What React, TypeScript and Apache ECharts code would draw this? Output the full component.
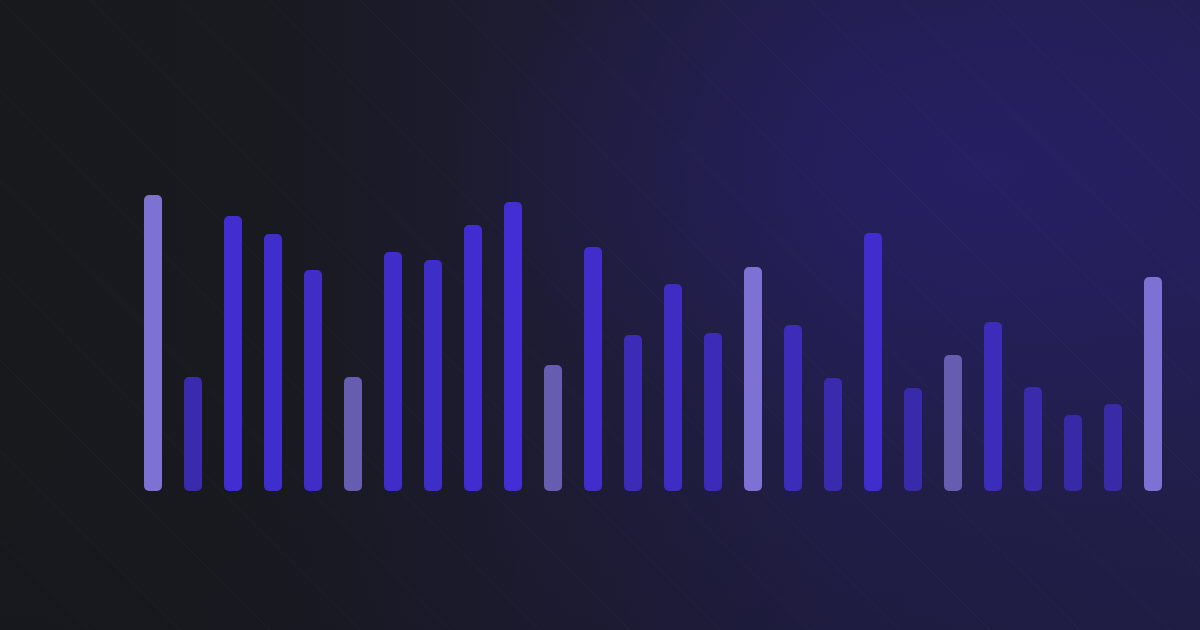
import React, { useEffect, useRef } from "react";
import * as echarts from "echarts";

const categories = [
  "1", "2", "3", "4", "5", "6", "7", "8", "9", "10", "11", "12", "13",
  "14", "15", "16", "17", "18", "19", "20", "21", "22", "23", "24", "25", "26",
];
const values = [
  296, 114, 275, 257, 221, 114, 239, 231, 266, 289, 126, 244, 156,
  207, 158, 224, 166, 113, 258, 103, 136, 169, 104, 76, 87, 214,
];
// tone of each bar: "light" lavender, "muted" greyish purple, "blue" regular
const tones = [
  "light", "blue", "blue", "blue", "blue", "muted", "blue", "blue", "blue", "blue", "muted", "blue", "blue",
  "blue", "blue", "light", "blue", "blue", "blue", "blue", "muted", "blue", "blue", "blue", "blue", "light",
];

const mix = (a: number[], b: number[], t: number) =>
  "rgb(" + a.map((v, i) => Math.round(v + (b[i] - v) * t)).join(",") + ")";

export default function App() {
  const ref = useRef<HTMLDivElement>(null);
  useEffect(() => {
    if (!ref.current) return;
    const chart = echarts.init(ref.current, undefined, { renderer: "svg" });
    const vmin = Math.min(...values);
    const vmax = Math.max(...values);
    const colorFor = (v: number, tone: string) => {
      if (tone === "light") return "#7d72d4";
      if (tone === "muted") return "#675db0";
      const t = (v - vmin) / (vmax - vmin);
      return mix([56, 42, 166], [66, 46, 214], t);
    };
    const lines: any[] = [];
    for (let k = -8; k <= 14; k++) {
      const c = k * 90;
      lines.push({
        type: "line",
        silent: true,
        z: -5,
        shape: { x1: c, y1: 0, x2: c + 630, y2: 630 },
        style: { stroke: "rgba(255,255,255,0.025)", lineWidth: 1 },
      });
    }
    chart.setOption({
      animation: false,
      backgroundColor: {
        type: "linear",
        x: 0, y: 0, x2: 1, y2: 0,
        colorStops: [
          { offset: 0, color: "#18191d" },
          { offset: 0.22, color: "#191920" },
          { offset: 0.45, color: "#1d1c33" },
          { offset: 0.7, color: "#211e4a" },
          { offset: 1, color: "#221f4e" },
        ],
      },
      graphic: [
        {
          type: "rect",
          silent: true,
          z: -10,
          shape: { x: 0, y: 0, width: 1200, height: 630 },
          style: {
            fill: {
              type: "radial",
              x: 0.82, y: 0.27, r: 0.45,
              colorStops: [
                { offset: 0, color: "rgba(42,32,120,0.55)" },
                { offset: 1, color: "rgba(42,32,120,0)" },
              ],
            },
          },
        },
        {
          type: "rect",
          silent: true,
          z: -9,
          shape: { x: 0, y: 0, width: 1200, height: 630 },
          style: {
            fill: {
              type: "linear",
              x: 0, y: 0, x2: 0, y2: 1,
              colorStops: [
                { offset: 0, color: "rgba(20,20,30,0)" },
                { offset: 0.65, color: "rgba(20,20,30,0)" },
                { offset: 1, color: "rgba(20,20,30,0.22)" },
              ],
            },
          },
        },
        ...lines,
      ],
      grid: { left: 133, right: 27, top: 191, bottom: 139 },
      xAxis: {
        type: "category",
        data: categories,
        axisLine: { show: false },
        axisTick: { show: false },
        axisLabel: { show: false },
        splitLine: { show: false },
      },
      yAxis: {
        type: "value",
        min: 0,
        max: 300,
        axisLine: { show: false },
        axisTick: { show: false },
        axisLabel: { show: false },
        splitLine: { show: false },
      },
      series: [
        {
          type: "bar",
          barWidth: 18,
          z: 5,
          data: values.map((v, i) => ({
            value: v,
            itemStyle: { color: colorFor(v, tones[i]), borderRadius: 5 },
          })),
        },
      ],
    });
    return () => chart.dispose();
  }, []);
  return (
    <div
      ref={ref}
      style={{ position: "absolute", left: 0, top: 0, width: 1200, height: 630 }}
    />
  );
}
